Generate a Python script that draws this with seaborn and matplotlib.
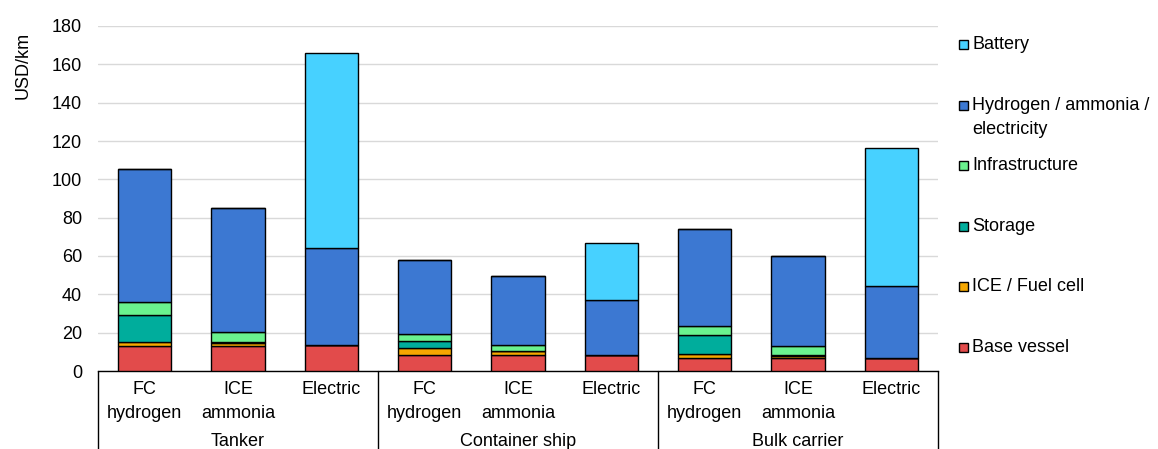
import numpy as np
import pandas as pd
import matplotlib
matplotlib.use("Agg")
import matplotlib.pyplot as plt
import matplotlib.transforms as mtransforms
from matplotlib.patches import Rectangle
import seaborn as sns

# categories
ship_types = ["Tanker", "Container ship", "Bulk carrier"]
powertrains = ["FC\nhydrogen", "ICE\nammonia", "Electric"]

# cost components (USD/km), bar order: tanker x3, container ship x3, bulk carrier x3
base_vessel = [13.3, 13.3, 13.4, 8.2, 8.2, 8.2, 6.8, 6.8, 7.0]
ice_fuel_cell = [2.0, 1.4, 0.0, 3.6, 2.2, 0.0, 2.1, 1.0, 0.0]
storage = [13.9, 0.2, 0.0, 4.0, 0.0, 0.0, 9.9, 0.7, 0.0]
infrastructure = [6.6, 5.7, 0.0, 3.7, 3.2, 0.0, 4.8, 4.4, 0.0]
fuel = [69.4, 64.6, 51.0, 38.4, 36.0, 28.7, 50.6, 46.9, 37.3]
battery = [0.0, 0.0, 101.7, 0.0, 0.0, 30.0, 0.0, 0.0, 72.2]

components = ["Base vessel", "ICE / Fuel cell", "Storage", "Infrastructure",
              "Hydrogen / ammonia /\nelectricity", "Battery"]
series = [base_vessel, ice_fuel_cell, storage, infrastructure, fuel, battery]
colors = ["#E24B4B", "#F5A700", "#00AD9C", "#6AF28E", "#3C78D2", "#47D1FF"]

bar_keys = [f"{s}|{p}" for s in ship_types for p in powertrains]
FS = 13

sns.set_theme(style="white")
plt.rcParams["font.family"] = ["Liberation Sans", "DejaVu Sans"]

fig = plt.figure(figsize=(11.58, 4.49), dpi=100)
ax = fig.add_axes([98 / 1158, (449 - 371) / 449, 840 / 1158, 345 / 449])

# stacked bars, one seaborn call per component
bottom = np.zeros(len(bar_keys))
for name, vals, col in zip(components, series, colors):
    sns.barplot(x=bar_keys, y=vals, order=bar_keys, color=col, saturation=1,
                width=0.57, edgecolor="black", linewidth=1, bottom=bottom.copy(),
                errorbar=None, ax=ax, zorder=3)
    bottom += np.array(vals)

ax.set_ylim(0, 180)
ax.set_xlim(-0.5, 8.5)
ax.set_yticks(range(0, 181, 20))
ax.yaxis.grid(True, color="#D9D9D9", linewidth=1, zorder=0)
ax.set_axisbelow(True)
sns.despine(ax=ax, left=True)
ax.spines["bottom"].set_color("black")
ax.spines["bottom"].set_linewidth(1)
ax.tick_params(axis="y", length=0, pad=11.5, labelsize=FS, labelcolor="black")

ax.set_xticks(range(len(bar_keys)))
ax.set_xticklabels(powertrains * 3, linespacing=1.5)
ax.tick_params(axis="x", length=0, pad=7.5, labelsize=FS, labelcolor="black")
ax.set_xlabel("")

ax.set_ylabel("USD/km", fontsize=FS, color="black")
ax.yaxis.set_label_coords(-0.079, 0.887)

# multi-level category box under the axis
trans = mtransforms.blended_transform_factory(ax.transData, ax.transAxes)
for xs in [-0.5, 2.5, 5.5, 8.5]:
    ax.plot([xs, xs], [0, -0.3], transform=trans, color="black", lw=1, clip_on=False)
for i, name in enumerate(ship_types):
    ax.text(i * 3 + 1, -0.203, name, transform=trans, ha="center", va="center",
            fontsize=FS, color="black")

# legend drawn at fixed positions (one entry per row like the original)
legend_rows = [44, 105, 165, 226, 286, 347]
for (name, col), yp in zip(list(zip(components, colors))[::-1], legend_rows):
    fy = 1 - yp / 449
    fig.add_artist(Rectangle((959 / 1158, fy - 4.5 / 449), 9 / 1158, 9 / 449,
                             transform=fig.transFigure, facecolor=col,
                             edgecolor="black", linewidth=1))
    fig.text(972 / 1158, fy + 8 / 449, name, ha="left", va="top", fontsize=FS,
             color="black", linespacing=1.5)

fig.savefig("out.png", dpi=100)
